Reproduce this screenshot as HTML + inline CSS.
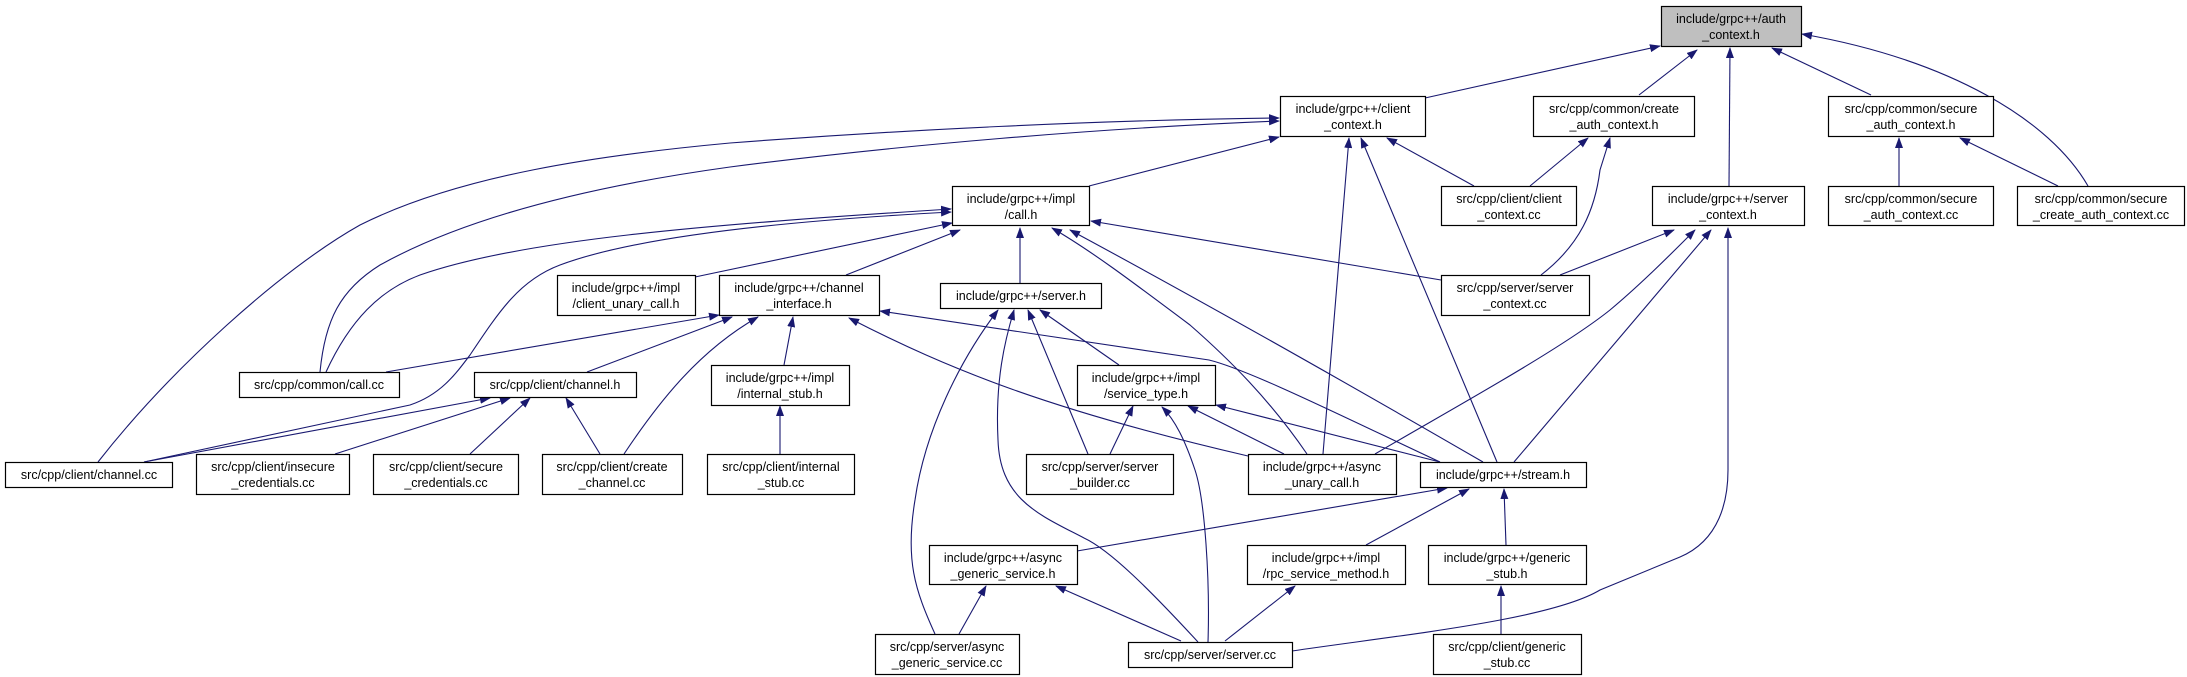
<!DOCTYPE html>
<html><head><meta charset="utf-8"><style>
html,body{margin:0;padding:0;background:#fff;}
svg{display:block;}
text{font-family:"Liberation Sans",Arial,sans-serif;font-size:12.5px;fill:#000;}
.e{fill:none;stroke:#191970;stroke-width:1.1;}
rect{fill:#fff;stroke:#000;stroke-width:1.2;}
</style></head><body>
<svg width="2187" height="677" viewBox="0 0 2187 677" xmlns="http://www.w3.org/2000/svg">
<defs><marker id="a" markerWidth="11" markerHeight="8" refX="10" refY="4" orient="auto" markerUnits="userSpaceOnUse"><path d="M0,0 L11,4 L0,8 Z" fill="#191970"/></marker></defs>
<g marker-end="url(#a)">
<path class="e" d="M1425,98 L1660,46"/>
<path class="e" d="M1639,95 L1697,50"/>
<path class="e" d="M1729,186 L1730,48"/>
<path class="e" d="M1871,95 L1772,48"/>
<path class="e" d="M2088,186 C2050,120 1950,60 1802,34"/>
<path class="e" d="M1089,186 L1279,137"/>
<path class="e" d="M98,462 C170,370 280,270 360,225 C460,175 600,155 730,143 C900,130 1100,120 1279,118"/>
<path class="e" d="M320,372 C325,320 340,290 380,265 C470,215 600,185 730,167 C900,145 1100,128 1279,121"/>
<path class="e" d="M1474,186 L1387,138"/>
<path class="e" d="M1323,454 L1349,138"/>
<path class="e" d="M1497,462 L1361,138"/>
<path class="e" d="M326,372 C350,320 380,290 420,275 C520,240 700,225 951,209"/>
<path class="e" d="M144,462 L410,405 C440,395 455,375 470,355 C500,310 520,280 560,265 C640,235 800,220 951,212"/>
<path class="e" d="M695,277 L952,223"/>
<path class="e" d="M846,275 L960,230"/>
<path class="e" d="M1020,283 L1020,228"/>
<path class="e" d="M1307,454 C1270,400 1230,360 1190,325 C1130,280 1090,250 1052,228"/>
<path class="e" d="M1483,462 C1350,385 1200,300 1070,230"/>
<path class="e" d="M1441,280 L1091,221"/>
<path class="e" d="M386,372 L719,315"/>
<path class="e" d="M587,372 L732,317"/>
<path class="e" d="M624,454 C660,400 700,350 758,317"/>
<path class="e" d="M784,365 L793,317"/>
<path class="e" d="M1248,456 C1050,410 950,370 849,318"/>
<path class="e" d="M1440,462 C1350,420 1250,370 1209,360 L880,311"/>
<path class="e" d="M144,462 L490,398"/>
<path class="e" d="M335,454 L510,398"/>
<path class="e" d="M470,454 L530,398"/>
<path class="e" d="M600,454 L566,398"/>
<path class="e" d="M780,454 L780,406"/>
<path class="e" d="M935,634 C915,590 905,560 915,500 C925,430 960,360 998,310"/>
<path class="e" d="M1198,642 C1150,590 1110,550 1084,538 C1040,515 1000,500 998,440 C995,380 1005,340 1014,310"/>
<path class="e" d="M1088,454 L1028,310"/>
<path class="e" d="M1119,365 L1040,310"/>
<path class="e" d="M1110,454 L1133,406"/>
<path class="e" d="M1284,454 L1188,406"/>
<path class="e" d="M1208,642 C1210,580 1205,500 1195,470 C1185,440 1175,420 1162,407"/>
<path class="e" d="M1440,462 L1216,405"/>
<path class="e" d="M1560,275 L1674,230"/>
<path class="e" d="M1375,454 C1450,410 1560,350 1610,310 C1640,285 1670,255 1695,230"/>
<path class="e" d="M1514,462 L1711,230"/>
<path class="e" d="M1292,651 C1400,635 1550,620 1600,590 L1680,557 C1720,540 1728,500 1728,470 L1728,228"/>
<path class="e" d="M1530,186 L1588,138"/>
<path class="e" d="M1541,275 C1580,245 1595,210 1600,170 L1610,138"/>
<path class="e" d="M1899,186 L1899,138"/>
<path class="e" d="M2058,186 L1960,138"/>
<path class="e" d="M1077,551 L1447,488"/>
<path class="e" d="M1366,545 L1469,489"/>
<path class="e" d="M1506,545 L1504,489"/>
<path class="e" d="M959,634 L986,586"/>
<path class="e" d="M1181,641 L1056,586"/>
<path class="e" d="M1225,641 L1295,586"/>
<path class="e" d="M1501,634 L1501,586"/>
</g>
<g text-anchor="middle">
<rect x="1661.5" y="6.5" width="140" height="40" style="fill:#bfbfbf"/><text x="1731" y="23">include/grpc++/auth</text><text x="1731" y="39">_context.h</text>
<rect x="1280.5" y="96.5" width="145" height="40"/><text x="1353" y="113">include/grpc++/client</text><text x="1353" y="129">_context.h</text>
<rect x="1533.5" y="96.5" width="161" height="40"/><text x="1614" y="113">src/cpp/common/create</text><text x="1614" y="129">_auth_context.h</text>
<rect x="1828.5" y="96.5" width="165" height="40"/><text x="1911" y="113">src/cpp/common/secure</text><text x="1911" y="129">_auth_context.h</text>
<rect x="952.5" y="186.5" width="137" height="39"/><text x="1021" y="203">include/grpc++/impl</text><text x="1021" y="219">/call.h</text>
<rect x="1441.5" y="186.5" width="135" height="39"/><text x="1509" y="203">src/cpp/client/client</text><text x="1509" y="219">_context.cc</text>
<rect x="1652.5" y="186.5" width="152" height="39"/><text x="1728" y="203">include/grpc++/server</text><text x="1728" y="219">_context.h</text>
<rect x="1828.5" y="186.5" width="165" height="39"/><text x="1911" y="203">src/cpp/common/secure</text><text x="1911" y="219">_auth_context.cc</text>
<rect x="2017.5" y="186.5" width="167" height="39"/><text x="2101" y="203">src/cpp/common/secure</text><text x="2101" y="219">_create_auth_context.cc</text>
<rect x="557.5" y="275.5" width="138" height="40"/><text x="626" y="292">include/grpc++/impl</text><text x="626" y="308">/client_unary_call.h</text>
<rect x="719.5" y="275.5" width="160" height="40"/><text x="799" y="292">include/grpc++/channel</text><text x="799" y="308">_interface.h</text>
<rect x="940.5" y="283.5" width="161" height="25"/><text x="1021" y="300">include/grpc++/server.h</text>
<rect x="1441.5" y="275.5" width="148" height="40"/><text x="1515" y="292">src/cpp/server/server</text><text x="1515" y="308">_context.cc</text>
<rect x="239.5" y="372.5" width="160" height="25"/><text x="319" y="389">src/cpp/common/call.cc</text>
<rect x="474.5" y="372.5" width="162" height="25"/><text x="555" y="389">src/cpp/client/channel.h</text>
<rect x="711.5" y="365.5" width="138" height="40"/><text x="780" y="382">include/grpc++/impl</text><text x="780" y="398">/internal_stub.h</text>
<rect x="1077.5" y="365.5" width="138" height="40"/><text x="1146" y="382">include/grpc++/impl</text><text x="1146" y="398">/service_type.h</text>
<rect x="5.5" y="462.5" width="167" height="25"/><text x="89" y="479">src/cpp/client/channel.cc</text>
<rect x="196.5" y="454.5" width="153" height="40"/><text x="273" y="471">src/cpp/client/insecure</text><text x="273" y="487">_credentials.cc</text>
<rect x="373.5" y="454.5" width="145" height="40"/><text x="446" y="471">src/cpp/client/secure</text><text x="446" y="487">_credentials.cc</text>
<rect x="542.5" y="454.5" width="140" height="40"/><text x="612" y="471">src/cpp/client/create</text><text x="612" y="487">_channel.cc</text>
<rect x="707.5" y="454.5" width="147" height="40"/><text x="781" y="471">src/cpp/client/internal</text><text x="781" y="487">_stub.cc</text>
<rect x="1026.5" y="454.5" width="147" height="40"/><text x="1100" y="471">src/cpp/server/server</text><text x="1100" y="487">_builder.cc</text>
<rect x="1248.5" y="454.5" width="148" height="40"/><text x="1322" y="471">include/grpc++/async</text><text x="1322" y="487">_unary_call.h</text>
<rect x="1420.5" y="462.5" width="166" height="25"/><text x="1503" y="479">include/grpc++/stream.h</text>
<rect x="929.5" y="545.5" width="148" height="39"/><text x="1003" y="562">include/grpc++/async</text><text x="1003" y="578">_generic_service.h</text>
<rect x="1247.5" y="545.5" width="158" height="39"/><text x="1326" y="562">include/grpc++/impl</text><text x="1326" y="578">/rpc_service_method.h</text>
<rect x="1428.5" y="545.5" width="158" height="39"/><text x="1507" y="562">include/grpc++/generic</text><text x="1507" y="578">_stub.h</text>
<rect x="875.5" y="634.5" width="144" height="40"/><text x="947" y="651">src/cpp/server/async</text><text x="947" y="667">_generic_service.cc</text>
<rect x="1128.5" y="642.5" width="164" height="25"/><text x="1210" y="659">src/cpp/server/server.cc</text>
<rect x="1433.5" y="634.5" width="148" height="40"/><text x="1507" y="651">src/cpp/client/generic</text><text x="1507" y="667">_stub.cc</text>
</g>
</svg>
</body></html>
